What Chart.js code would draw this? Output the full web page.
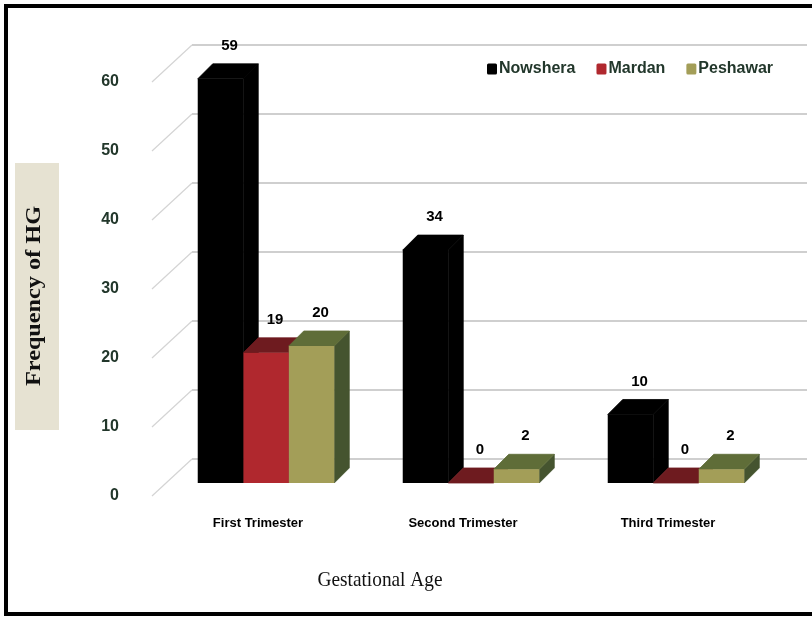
<!DOCTYPE html>
<html>
<head>
<meta charset="utf-8">
<script src="https://cdn.jsdelivr.net/npm/chart.js@4/dist/chart.umd.min.js"></script>
<style>
  html, body { margin: 0; padding: 0; background: #fff; }
  #wrap { width: 812px; height: 617px; }
</style>
</head>
<body>
<div id="wrap"><canvas id="chart" width="812" height="617"></canvas></div>
<script>
// data
const categories = ['First Trimester', 'Second Trimester', 'Third Trimester'];
const nowshera = [59, 34, 10];
const mardan = [19, 0, 0];
const peshawar = [20, 2, 2];
const yTickValues = [0, 10, 20, 30, 40, 50, 60];

const textDark = '#22372b';
const sans = '"Liberation Sans", Arial, sans-serif';
const serif = '"Liberation Serif", "Times New Roman", serif';

// colours for each series: front, top, side
const faces = [
  { front: '#000000', top: '#000000', side: '#000000' },
  { front: '#b0282e', top: '#6e1b1f', side: '#5a1519' },
  { front: '#a39e58', top: '#5f6d38', side: '#45542f' }
];
const DX = 15, DY = -15; // bar depth

// draw text squeezed/stretched to a given width
function fitText(ctx, text, x, y, width) {
  const w = ctx.measureText(text).width;
  ctx.save();
  ctx.translate(x, y);
  ctx.scale(width / w, 1);
  ctx.fillText(text, 0, 0);
  ctx.restore();
}

function face(ctx, pts, color) {
  ctx.fillStyle = color;
  ctx.strokeStyle = color;
  ctx.lineWidth = 0.8;
  ctx.beginPath();
  pts.forEach((p, k) => k ? ctx.lineTo(p[0], p[1]) : ctx.moveTo(p[0], p[1]));
  ctx.closePath();
  ctx.fill();
  ctx.stroke();
}

const chart3d = {
  id: 'chart3d',
  beforeDraw(chart) {
    const ctx = chart.ctx;
    ctx.save();
    // outer frame
    ctx.strokeStyle = '#000';
    ctx.lineWidth = 4;
    ctx.strokeRect(6, 6, 830, 608);
    // y title box
    ctx.fillStyle = '#e6e2d2';
    ctx.fillRect(15, 163, 44, 267);
    ctx.translate(35, 296);
    ctx.rotate(-Math.PI / 2);
    ctx.fillStyle = '#111';
    ctx.font = 'bold 20px ' + serif;
    ctx.textAlign = 'center';
    ctx.textBaseline = 'middle';
    fitText(ctx, 'Frequency of HG', 0, 0, 180);
    ctx.restore();
  },
  beforeDatasetsDraw(chart) {
    const ctx = chart.ctx, area = chart.chartArea;
    const yT = chart.scales.yTicks;
    ctx.save();
    // back wall grid with floor diagonals
    yTickValues.forEach(v => {
      const fy = yT.getPixelForValue(v);
      const by = fy - 37;
      ctx.strokeStyle = '#d4d4d4';
      ctx.lineWidth = 1.2;
      ctx.beginPath();
      ctx.moveTo(area.left - 11.5, fy);
      ctx.lineTo(area.left + 28.5, by);
      ctx.stroke();
      ctx.strokeStyle = '#cfcfcf';
      ctx.lineWidth = 2;
      ctx.beginPath();
      ctx.moveTo(area.left + 28.5, by);
      ctx.lineTo(area.right + 28.5, by);
      ctx.stroke();
    });
    // side and top faces of every bar, left to right; the library then paints the fronts over them
    const metas = chart.data.datasets.map((ds, i) => chart.getDatasetMeta(i));
    categories.forEach((c, j) => {
      metas.forEach((meta, i) => {
        const el = meta.data[j];
        const f = faces[i];
        const l = el.x - el.width / 2, r = el.x + el.width / 2;
        const t = el.y, b = el.base;
        face(ctx, [[r, t], [r + DX, t + DY], [r + DX, b + DY], [r, b]], f.side);
        face(ctx, [[l, t], [r, t], [r + DX, t + DY], [l + DX, t + DY]], f.top);
      });
    });
    ctx.restore();
  },
  afterDatasetsDraw(chart) {
    const ctx = chart.ctx;
    ctx.save();
    // value labels
    ctx.fillStyle = '#000';
    ctx.font = 'bold 15px ' + sans;
    ctx.textAlign = 'center';
    ctx.textBaseline = 'middle';
    chart.data.datasets.forEach((ds, i) => {
      chart.getDatasetMeta(i).data.forEach((el, j) => {
        ctx.fillText(String(ds.data[j]), el.x + 9, el.y - 33);
      });
    });
    // legend
    let x = 487;
    const ly = 69;
    ctx.font = 'bold 16px ' + sans;
    ctx.textAlign = 'left';
    chart.data.datasets.forEach((ds, i) => {
      ctx.fillStyle = faces[i].front;
      ctx.beginPath();
      ctx.roundRect(x, ly - 5.5, 10, 11, 1.5);
      ctx.fill();
      ctx.fillStyle = textDark;
      ctx.fillText(ds.label, x + 12, ly);
      x += 12 + ctx.measureText(ds.label).width + 21;
    });
    // x title
    ctx.fillStyle = '#111';
    ctx.font = '22px ' + serif;
    ctx.textAlign = 'center';
    fitText(ctx, 'Gestational Age', 380, 580, 125);
    ctx.restore();
  }
};

new Chart(document.getElementById('chart'), {
  type: 'bar',
  data: {
    labels: categories,
    datasets: [
      { label: 'Nowshera', data: nowshera, backgroundColor: faces[0].front },
      { label: 'Mardan', data: mardan, backgroundColor: faces[1].front },
      { label: 'Peshawar', data: peshawar, backgroundColor: faces[2].front }
    ]
  },
  options: {
    responsive: false,
    animation: false,
    layout: { padding: { top: 45, right: 33.5, left: 0, bottom: 0 } },
    datasets: { bar: { categoryPercentage: 0.666, barPercentage: 1.0, borderWidth: 0 } },
    plugins: { legend: { display: false }, tooltip: { enabled: false } },
    scales: {
      x: {
        grid: { display: false, drawTicks: false },
        border: { display: false },
        afterFit: s => { s.height = 121; },
        ticks: {
          padding: 20,
          labelOffset: -8,
          color: '#000',
          font: { family: sans, size: 13, weight: 'bold' }
        }
      },
      y: {
        display: false,
        min: -1.9,
        max: 63.94
      },
      yTicks: {
        position: 'left',
        min: 0,
        max: 65.36,
        grid: { display: false, drawTicks: false },
        border: { display: false },
        afterFit: s => { s.width = 163.5; s.paddingTop = 0; s.paddingBottom = 0; },
        afterBuildTicks: s => { s.ticks = yTickValues.map(v => ({ value: v })); },
        ticks: {
          padding: 44.5,
          color: textDark,
          font: { family: sans, size: 16, weight: 'bold' }
        }
      }
    }
  },
  plugins: [chart3d]
});
</script>
</body>
</html>
